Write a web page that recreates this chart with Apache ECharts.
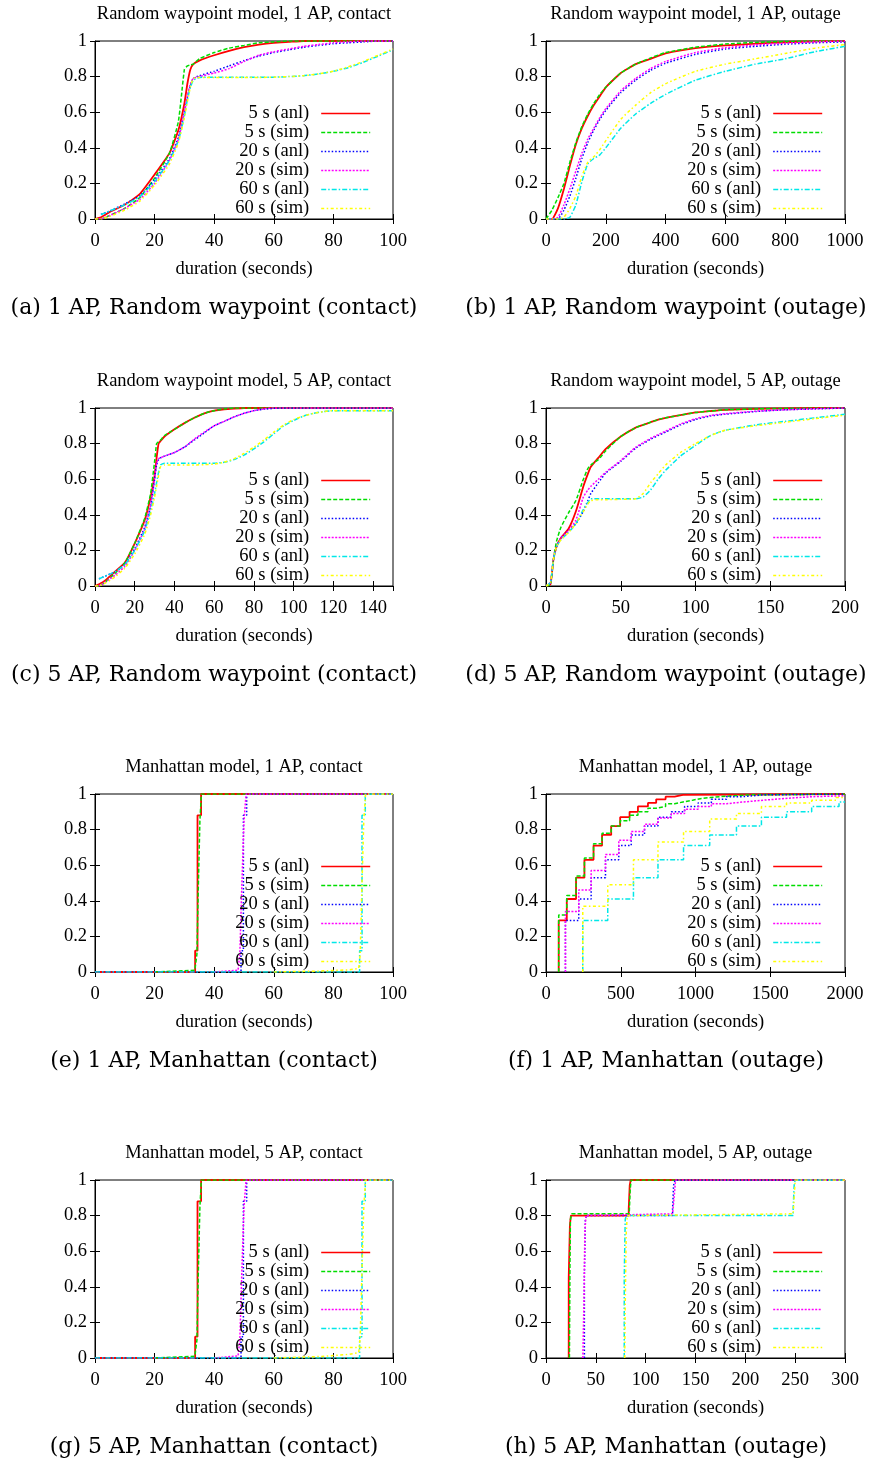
<!DOCTYPE html>
<html><head><meta charset="utf-8">
<script src="https://cdn.jsdelivr.net/npm/echarts@6/dist/echarts.min.js"></script>
<style>html,body{margin:0;padding:0;background:#fff}#chart{width:870px;height:1464px}</style>
</head><body><div id="chart"></div>
<script>
// ---------------- data ----------------
const SERIES_NAMES = ['5 s (anl)', '5 s (sim)', '20 s (anl)', '20 s (sim)', '60 s (anl)', '60 s (sim)'];
const TITLES = [
  'Random waypoint model, 1 AP, contact', 'Random waypoint model, 1 AP, outage',
  'Random waypoint model, 5 AP, contact', 'Random waypoint model, 5 AP, outage',
  'Manhattan model, 1 AP, contact', 'Manhattan model, 1 AP, outage',
  'Manhattan model, 5 AP, contact', 'Manhattan model, 5 AP, outage'
];
const CAPTIONS = [
  '(a) 1 AP, Random waypoint (contact)', '(b) 1 AP, Random waypoint (outage)',
  '(c) 5 AP, Random waypoint (contact)', '(d) 5 AP, Random waypoint (outage)',
  '(e) 1 AP, Manhattan (contact)', '(f) 1 AP, Manhattan (outage)',
  '(g) 5 AP, Manhattan (contact)', '(h) 5 AP, Manhattan (outage)'
];
const X_NAME = 'duration (seconds)';
const X_MAX = [100, 1000, 150, 200, 100, 2000, 100, 300];
const X_INTERVAL = [20, 200, 20, 50, 20, 500, 20, 50];
const Y_MAX = 1, Y_INTERVAL = 0.2;

// (a) Random waypoint, 1 AP, contact
const A_X = [0,2,5,10,15,20,25,28,30,31,32,33,35,40,45,50,55,60,65,70,75,80,85,90,95,100];
const A_5ANL = [0,0.01,0.04,0.08,0.14,0.25,0.37,0.5,0.65,0.76,0.84,0.87,0.89,0.92,0.945,0.965,0.98,0.99,0.995,1,1,1,1,1,1,1];
const A_5SIM = [0,0,0.02,0.06,0.12,0.23,0.37,0.55,0.84,0.86,0.865,0.87,0.9,0.935,0.96,0.975,0.99,0.995,1,1,1,1,1,1,1,1];
const A_20ANL = [null,0.025,0.045,0.085,0.13,0.22,0.34,0.46,0.6,0.68,0.75,0.79,0.805,0.83,0.86,0.89,0.915,0.935,0.95,0.965,0.975,0.985,0.99,0.995,1,1];
const A_20SIM = [0,0,0.02,0.06,0.11,0.2,0.33,0.45,0.6,0.69,0.76,0.79,0.8,0.82,0.845,0.885,0.92,0.94,0.955,0.97,0.98,0.99,0.995,1,1,1];
const A_60ANL = [null,0.025,0.045,0.08,0.125,0.21,0.33,0.44,0.58,0.67,0.74,0.78,0.795,0.797,0.797,0.797,0.797,0.797,0.8,0.805,0.815,0.83,0.85,0.88,0.915,0.95];
const A_60SIM = [0,0,0.015,0.05,0.1,0.19,0.31,0.43,0.57,0.66,0.74,0.79,0.795,0.795,0.795,0.795,0.795,0.797,0.8,0.805,0.815,0.83,0.855,0.885,0.92,0.955];

// (b) Random waypoint, 1 AP, outage
const B_X = [0,20,40,60,80,100,120,140,160,180,200,250,300,350,400,500,600,700,800,900,1000];
const B_5ANL = [0,0,0.06,0.17,0.3,0.42,0.51,0.58,0.64,0.69,0.74,0.82,0.87,0.9,0.93,0.96,0.975,0.985,0.993,0.998,1];
const B_5SIM = [0,0.05,0.12,0.2,0.32,0.43,0.52,0.59,0.65,0.7,0.74,0.82,0.87,0.905,0.935,0.965,0.983,0.992,0.997,1,1];
const B_20ANL = [0,0,0,0.05,0.13,0.23,0.34,0.43,0.5,0.56,0.61,0.71,0.78,0.835,0.875,0.925,0.955,0.97,0.982,0.99,0.995];
const B_20SIM = [0,0,0.01,0.08,0.17,0.27,0.37,0.45,0.51,0.57,0.62,0.72,0.79,0.845,0.885,0.935,0.962,0.978,0.988,0.995,1];
const B_60ANL = [0,0,0,0,0.01,0.08,0.21,0.31,0.34,0.36,0.4,0.51,0.59,0.65,0.7,0.78,0.83,0.87,0.9,0.94,0.97];
const B_60SIM = [0,0,0,0.01,0.06,0.13,0.24,0.32,0.35,0.39,0.44,0.56,0.64,0.71,0.76,0.83,0.87,0.9,0.93,0.96,0.98];

// (c) Random waypoint, 5 AP, contact
const C_X = [0,2,5,10,15,20,25,28,30,31,32,33,35,40,45,50,55,60,65,70,75,80,85,90,95,100,105,110,115,120,130,140,150];
const C_5ANL = [0,0.01,0.03,0.08,0.13,0.24,0.37,0.5,0.62,0.72,0.8,0.815,0.84,0.88,0.915,0.945,0.97,0.985,0.993,0.997,1,1,1,1,1,1,1,1,1,1,1,1,1];
const C_5SIM = [0,0,0.02,0.07,0.13,0.24,0.38,0.52,0.7,0.8,0.81,0.82,0.845,0.88,0.915,0.945,0.97,0.985,0.995,1,1,1,1,1,1,1,1,1,1,1,1,1,1];
const C_20ANL = [null,0.04,0.055,0.08,0.12,0.21,0.33,0.45,0.6,0.68,0.71,0.72,0.73,0.75,0.78,0.82,0.86,0.9,0.925,0.95,0.97,0.985,0.993,0.998,1,1,1,1,1,1,1,1,1];
const C_20SIM = [0,0,0.02,0.06,0.11,0.2,0.32,0.45,0.6,0.69,0.715,0.72,0.73,0.75,0.78,0.825,0.865,0.9,0.925,0.95,0.97,0.985,0.995,1,1,1,1,1,1,1,1,1,1];
const C_60ANL = [null,0.04,0.055,0.08,0.12,0.2,0.31,0.42,0.52,0.58,0.64,0.68,0.69,0.69,0.69,0.69,0.69,0.69,0.695,0.71,0.735,0.77,0.81,0.855,0.9,0.93,0.955,0.97,0.98,0.985,0.985,0.985,0.985];
const C_60SIM = [0,0,0.015,0.05,0.1,0.18,0.29,0.4,0.5,0.56,0.62,0.67,0.68,0.68,0.68,0.68,0.682,0.685,0.695,0.715,0.745,0.78,0.82,0.865,0.905,0.935,0.955,0.97,0.98,0.985,0.985,0.985,0.985];

// (d) Random waypoint, 5 AP, outage
const D_X = [0,3,5,7,10,15,20,25,28,30,35,40,50,60,65,70,75,80,90,100,110,120,140,160,180,200];
const D_5ANL = [0,0.01,0.15,0.22,0.27,0.32,0.42,0.56,0.63,0.67,0.72,0.77,0.84,0.89,0.905,0.92,0.935,0.945,0.96,0.975,0.983,0.99,0.995,0.998,1,1];
const D_5SIM = [0,0.01,0.15,0.25,0.33,0.41,0.48,0.6,0.66,0.68,0.71,0.76,0.84,0.89,0.905,0.92,0.935,0.945,0.96,0.975,0.983,0.99,0.995,0.998,1,1];
const D_20ANL = [0,0.02,0.15,0.22,0.27,0.31,0.35,0.42,0.48,0.52,0.58,0.635,0.7,0.775,0.8,0.825,0.845,0.865,0.905,0.935,0.955,0.965,0.98,0.99,0.995,1];
const D_20SIM = [0,0.02,0.15,0.22,0.27,0.31,0.37,0.5,0.54,0.56,0.6,0.64,0.705,0.78,0.805,0.83,0.85,0.87,0.91,0.94,0.958,0.968,0.982,0.99,0.996,1];
const D_60ANL = [0,0.02,0.15,0.22,0.26,0.3,0.35,0.43,0.47,0.49,0.49,0.49,0.49,0.49,0.5,0.54,0.6,0.65,0.73,0.79,0.845,0.875,0.905,0.925,0.945,0.965];
const D_60SIM = [0,0.02,0.15,0.22,0.26,0.3,0.35,0.42,0.46,0.48,0.485,0.485,0.487,0.49,0.52,0.58,0.63,0.68,0.75,0.8,0.845,0.875,0.9,0.92,0.94,0.96];

// (e) Manhattan, 1 AP, contact  ([duration, CDF] points)
const E_5ANL = [[0,0],[33.6,0.12],[34.4,0.88],[35.6,1],[100,1]];
const E_5SIM = [[20,0],[33.5,0.01],[34.2,0.1],[34.7,0.5],[35.2,0.85],[35.7,1],[100,1]];
const E_20ANL = [[0,0],[49.0,0.12],[49.8,0.88],[50.9,1],[100,1]];
const E_20SIM = [[40,0],[48,0.01],[48.6,0.1],[49.3,0.5],[50,0.85],[50.7,1],[100,1]];
const E_60ANL = [[0,0],[88.8,0.12],[89.6,0.88],[90.7,1],[100,1]];
const E_60SIM = [[60,0],[75,0.005],[85,0.012],[88.5,0.02],[89,0.1],[89.6,0.5],[90.2,0.85],[90.8,1],[100,1]];

// (f) Manhattan, 1 AP, outage
const F_5ANL = [[85,0],[85,0.29],[139,0.41],[201,0.53],[257,0.63],[318,0.71],[375,0.77],[436,0.82],[496,0.87],[559,0.9],[615,0.93],[682,0.95],[737,0.97],[800,0.985],[860,0.995],[916,1],[2000,1]];
const F_5SIM = [[85,0],[85,0.32],[139,0.43],[201,0.54],[257,0.64],[318,0.72],[375,0.78],[436,0.82],[496,0.85],[559,0.88],[615,0.9],[682,0.92],[737,0.93],[800,0.945],[860,0.955],[916,0.965],[980,0.975],[1040,0.98],[1100,0.985],[1160,0.99],[1250,0.995],[1350,1],[2000,1]];
const F_20ANL = [[130,0],[130,0.29],[219,0.41],[302,0.53],[398,0.63],[487,0.71],[570,0.77],[659,0.82],[749,0.87],[838,0.9],[927,0.93],[1017,0.95],[1106,0.97],[1207,0.985],[1318,0.995],[1452,1],[2000,1]];
const F_20SIM = [[130,0],[130,0.34],[219,0.46],[302,0.57],[398,0.66],[487,0.74],[570,0.79],[659,0.83],[749,0.865],[838,0.89],[927,0.915],[1017,0.93],[1106,0.945],[1207,0.955],[1318,0.965],[1452,0.975],[1600,0.985],[1780,0.99],[2000,0.99]];
const F_60ANL = [[246,0],[246,0.29],[413,0.41],[585,0.53],[749,0.63],[920,0.71],[1095,0.77],[1274,0.82],[1441,0.87],[1609,0.9],[1777,0.93],[1960,0.955],[2000,0.955]];
const F_60SIM = [[246,0],[246,0.37],[413,0.49],[585,0.63],[749,0.73],[920,0.79],[1095,0.86],[1274,0.89],[1441,0.93],[1609,0.95],[1777,0.965],[1940,0.98],[2000,0.98]];

// (g) Manhattan, 5 AP, contact
const G_5ANL = [[0,0],[33.6,0.12],[34.4,0.88],[35.6,1],[100,1]];
const G_5SIM = [[20,0],[33.5,0.01],[34.2,0.1],[34.7,0.5],[35.2,0.85],[35.7,1],[100,1]];
const G_20ANL = [[0,0],[49.0,0.12],[49.8,0.88],[50.9,1],[100,1]];
const G_20SIM = [[40,0],[48,0.012],[48.6,0.1],[49.3,0.5],[50,0.85],[50.7,1],[100,1]];
const G_60ANL = [[0,0],[88.8,0.12],[89.6,0.88],[90.7,1],[100,1]];
const G_60SIM = [[60,0],[75,0.008],[85,0.02],[88.5,0.03],[89,0.12],[89.6,0.5],[90.2,0.85],[90.8,1],[100,1]];

// (h) Manhattan, 5 AP, outage
const H_5ANL = [[22.8,0],[22.8,0.45],[24,0.75],[25,0.8],[83,0.84],[84,0.97],[85,1],[300,1]];
const H_5SIM = [[23.5,0],[24,0.5],[24.5,0.78],[26,0.81],[83.5,0.81],[84.5,0.95],[85.5,1],[300,1]];
const H_20ANL = [[38.5,0],[38.5,0.45],[39.5,0.78],[40.5,0.8],[127,0.84],[128,0.97],[129.5,1],[300,1]];
const H_20SIM = [[37,0],[38,0.3],[39,0.7],[40,0.8],[42,0.805],[127,0.81],[128.5,0.9],[130,1],[300,1]];
const H_60ANL = [[78.5,0],[78.5,0.45],[79.5,0.78],[80.5,0.8],[248,0.84],[249,0.97],[250,1],[300,1]];
const H_60SIM = [[79,0],[79.5,0.3],[80.5,0.7],[81.5,0.8],[83,0.81],[248,0.81],[249,0.9],[250,1],[300,1]];

// ---------------- assembly ----------------
const zip = (xs, ys) => xs.map((x, k) => [x, ys[k]]).filter(p => p[1] != null);
const PLOTS = [
  [A_5ANL, A_5SIM, A_20ANL, A_20SIM, A_60ANL, A_60SIM].map(y => zip(A_X, y)),
  [B_5ANL, B_5SIM, B_20ANL, B_20SIM, B_60ANL, B_60SIM].map(y => zip(B_X, y)),
  [C_5ANL, C_5SIM, C_20ANL, C_20SIM, C_60ANL, C_60SIM].map(y => zip(C_X, y)),
  [D_5ANL, D_5SIM, D_20ANL, D_20SIM, D_60ANL, D_60SIM].map(y => zip(D_X, y)),
  [E_5ANL, E_5SIM, E_20ANL, E_20SIM, E_60ANL, E_60SIM],
  [F_5ANL, F_5SIM, F_20ANL, F_20SIM, F_60ANL, F_60SIM],
  [G_5ANL, G_5SIM, G_20ANL, G_20SIM, G_60ANL, G_60SIM],
  [H_5ANL, H_5SIM, H_20ANL, H_20SIM, H_60ANL, H_60SIM]
];
// which series are drawn as step functions: 'none' | 'anl' | 'all'
const STEP_MODE = ['none', 'none', 'none', 'none', 'anl', 'all', 'anl', 'anl'];

const STYLES = [
  { color: '#ff0000', width: 1.8, type: 'solid' },
  { color: '#00dd00', width: 1.5, type: [4, 2] },
  { color: '#0000ff', width: 1.5, type: [1.5, 2] },
  { color: '#ff00ff', width: 1.5, type: [2, 1.5] },
  { color: '#00e8e8', width: 1.5, type: [5, 2, 1.5, 2] },
  { color: '#ffff00', width: 1.5, type: [3, 2.5, 1.5, 2.5] }
];

const FONT = 'Liberation Serif';
const FS = 18.5;
const GRID_LEFT = [95, 546];
const GRID_TOP = [41, 408, 794, 1180];
const GRID_W = [298, 299];
const GRID_H = 178;
const CAPTION_X = [214, 666];
const CAPTION_Y = [308, 675, 1061, 1447];

const option = {
  animation: false, backgroundColor: '#fff',
  grid: [], xAxis: [], yAxis: [], series: [], legend: [], title: [], graphic: []
};
const txt = { fontFamily: FONT, fontSize: FS, color: '#000' };
const xMirror = [], yMirror = [];

for (let i = 0; i < 8; i++) {
  const col = i % 2, row = Math.floor(i / 2);
  const left = GRID_LEFT[col], top = GRID_TOP[row], w = GRID_W[col];
  option.grid.push({ left, top, width: w, height: GRID_H, show: true, borderColor: '#000', borderWidth: 1, backgroundColor: 'transparent' });
  option.xAxis.push({
    type: 'value', gridIndex: i, min: 0, max: X_MAX[i], interval: X_INTERVAL[i], position: 'bottom',
    name: X_NAME, nameLocation: 'middle', nameGap: 41, nameTextStyle: txt,
    axisLine: { show: true, onZero: false, lineStyle: { color: '#000', width: 1 } },
    axisTick: { show: true, inside: true, length: 5, lineStyle: { color: '#000' } },
    axisLabel: Object.assign({ margin: 13, showMinLabel: true, showMaxLabel: i !== 2,
      formatter: v => String(v) }, txt),
    splitLine: { show: false }
  });
  option.yAxis.push({
    type: 'value', gridIndex: i, min: 0, max: Y_MAX, interval: Y_INTERVAL, position: 'left',
    axisLine: { show: true, onZero: false, lineStyle: { color: '#000', width: 1 } },
    axisTick: { show: true, inside: true, length: 5, lineStyle: { color: '#000' } },
    axisLabel: Object.assign({ margin: 8, showMinLabel: true, showMaxLabel: true,
      formatter: v => String(Math.round(v * 10) / 10) }, txt),
    splitLine: { show: false }
  });
  xMirror.push({
    type: 'value', gridIndex: i, min: 0, max: X_MAX[i], interval: X_INTERVAL[i], position: 'top',
    axisLine: { show: false }, axisLabel: { show: false }, splitLine: { show: false },
    axisTick: { show: true, inside: true, length: 5, lineStyle: { color: '#000' } }
  });
  yMirror.push({
    type: 'value', gridIndex: i, min: 0, max: Y_MAX, interval: Y_INTERVAL, position: 'right',
    axisLine: { show: false }, axisLabel: { show: false }, splitLine: { show: false },
    axisTick: { show: true, inside: true, length: 5, lineStyle: { color: '#000' } }
  });

  PLOTS[i].forEach((data, s) => {
    const st = STYLES[s];
    const isStep = STEP_MODE[i] === 'all' || (STEP_MODE[i] === 'anl' && s % 2 === 0);
    option.series.push({
      type: 'line', name: SERIES_NAMES[s], xAxisIndex: i, yAxisIndex: i, data,
      symbol: 'none', showSymbol: false, step: isStep ? 'end' : false,
      smooth: (STEP_MODE[i] === 'none') ? 0.15 : false,
      lineStyle: { color: st.color, width: st.width, type: st.type },
      itemStyle: { color: st.color }, emphasis: { disabled: true }
    });
  });

  option.legend.push({
    orient: 'vertical', align: 'right', right: 870 - (left + w - 22), top: top + 63,
    itemWidth: 49, itemHeight: 10, itemGap: 0, padding: 0, selectedMode: false,
    data: SERIES_NAMES,
    textStyle: Object.assign({ lineHeight: 18.6, padding: [0, 7, 0, 0] }, txt),
    itemStyle: { opacity: 0 }, lineStyle: { width: 1.6 }
  });

  option.title.push({
    text: TITLES[i], left: left + w / 2, top: top - 36, textAlign: 'center', padding: 0,
    textStyle: { fontFamily: FONT, fontSize: FS, fontWeight: 'normal', color: '#000' }
  });

  option.graphic.push({
    type: 'text', x: CAPTION_X[col], y: CAPTION_Y[row], silent: true,
    style: { text: CAPTIONS[i], fill: '#000', font: '22px "DejaVu Serif"', align: 'center', verticalAlign: 'middle' }
  });
}
option.xAxis = option.xAxis.concat(xMirror);
option.yAxis = option.yAxis.concat(yMirror);

const chart = echarts.init(document.getElementById('chart'), null, { renderer: 'canvas' });
chart.setOption(option);
</script></body></html>
